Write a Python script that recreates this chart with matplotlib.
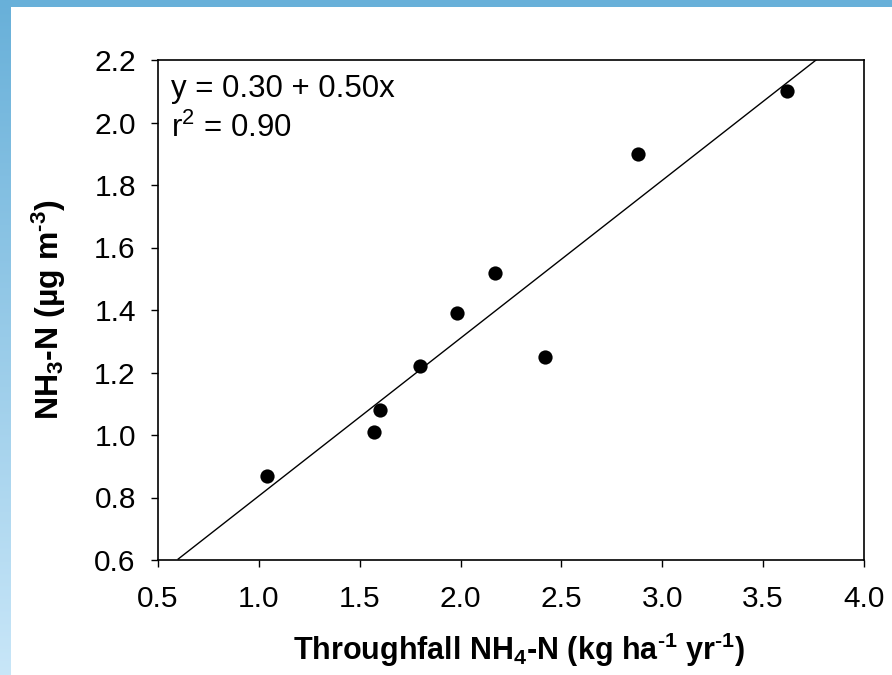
import matplotlib
matplotlib.use("Agg")
import matplotlib.pyplot as plt
import numpy as np

# data
throughfall = [1.04, 1.57, 1.60, 1.80, 1.98, 2.17, 2.42, 2.88, 3.62]
nh3 = [0.87, 1.01, 1.08, 1.22, 1.39, 1.52, 1.25, 1.90, 2.10]
fit_intercept = 0.30
fit_slope = 0.505
fit_x = [0.6, 3.9]
x_ticks = [0.5, 1.0, 1.5, 2.0, 2.5, 3.0, 3.5, 4.0]
y_ticks = [0.6, 0.8, 1.0, 1.2, 1.4, 1.6, 1.8, 2.0, 2.2]

plt.rcParams["font.family"] = ["Liberation Sans", "DejaVu Sans"]
plt.rcParams["mathtext.fontset"] = "custom"
plt.rcParams["mathtext.rm"] = "Liberation Sans"
plt.rcParams["mathtext.it"] = "Liberation Sans"
plt.rcParams["mathtext.bf"] = "Liberation Sans:bold"

W, H, dpi = 892, 675, 100
fig = plt.figure(figsize=(W / dpi, H / dpi), dpi=dpi, facecolor="white")

# blue slide frame: top strip and left gradient strip
top = fig.add_axes([0, 1 - 7 / H, 1, 7 / H])
top.axis("off")
top.add_patch(plt.Rectangle((0, 0), 1, 1, color="#68b0d9", transform=top.transAxes))
side = fig.add_axes([0, 0, 11 / W, 1])
grad = np.linspace(0, 1, 256).reshape(-1, 1)
cmap = matplotlib.colors.LinearSegmentedColormap.from_list("frame", ["#68b0d9", "#c8e6f8"])
side.imshow(grad, aspect="auto", cmap=cmap, extent=[0, 1, 0, 1], origin="upper")
side.axis("off")

ax = fig.add_axes([158 / W, 1 - 560 / H, 706 / W, 500 / H])
ax.scatter(throughfall, nh3, s=105, color="black", zorder=3, linewidths=0)
fx = np.array(fit_x)
ax.plot(fx, fit_intercept + fit_slope * fx, color="black", linewidth=1.0)

ax.set_xlim(0.5, 4.0)
ax.set_ylim(0.6, 2.2)
ax.set_xticks(x_ticks)
ax.set_yticks(y_ticks)
ax.set_xticklabels([f"{v:.1f}" for v in x_ticks])
ax.set_yticklabels([f"{v:.1f}" for v in y_ticks])
ax.tick_params(direction="out", length=5, width=1.0, labelsize=21.5, top=False, right=False)
ax.tick_params(axis="x", pad=13)
ax.tick_params(axis="y", pad=11)
for sp in ax.spines.values():
    sp.set_linewidth(1.2)

hy = "\u2010"
ax.set_xlabel(r"Throughfall NH$_\mathbf{4}$-N (kg ha$^\mathbf{" + hy + r"1}$ yr$^\mathbf{" + hy + r"1}$)",
              fontsize=22, fontweight="bold", labelpad=13)
ax.xaxis.label.set_x(0.511)
ax.set_ylabel(r"NH$_\mathbf{3}$-N (µg m$^\mathbf{" + hy + r"3}$)",
              fontsize=23, fontweight="bold", labelpad=19)

ax.text(0.018, 0.926, "y = 0.30 + 0.50x", transform=ax.transAxes, fontsize=22.5, va="baseline")
ax.text(0.018, 0.846, r"r$^2$ = 0.90", transform=ax.transAxes, fontsize=22.5, va="baseline")

fig.savefig("out.png", dpi=dpi, facecolor=fig.get_facecolor())
